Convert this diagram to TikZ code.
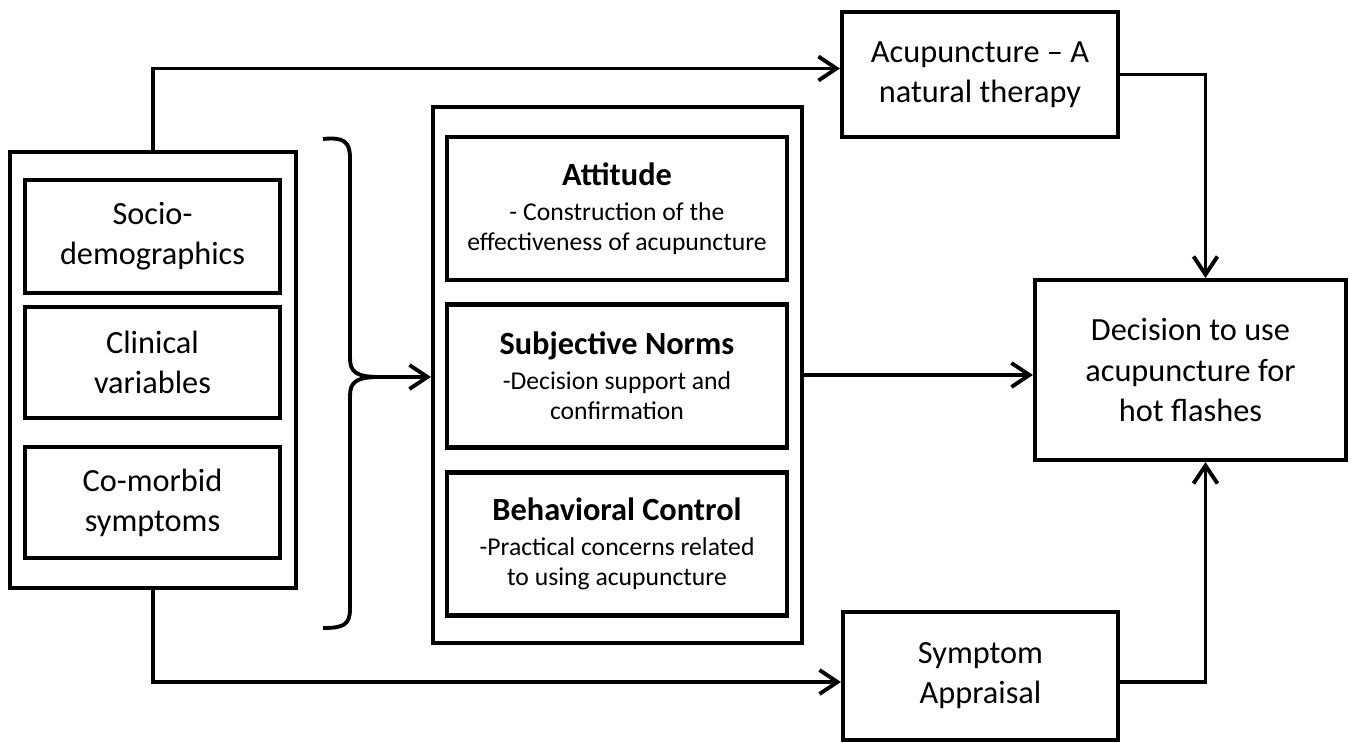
\documentclass[tikz,border=0pt]{standalone}
\usepackage{fontspec}
\setmainfont{Carlito}
\usetikzlibrary{arrows.meta}

\newcommand{\mainsz}{\fontsize{18.4}{22.8}\selectfont}
\newcommand{\subsz}{\fontsize{14.6}{17}\selectfont}

\begin{document}
\begin{tikzpicture}[x=0.02cm,y=-0.02cm,
    box/.style={draw, line width=2.4pt, align=center, inner sep=0pt, font=\mainsz},
    tbox/.style={box, minimum width=6.8cm, minimum height=2.86cm, font=\subsz},
    arr/.style={-{Straight Barb[length=0.36cm,width=0.48cm,line width=2.2pt]}, line width=2.2pt}]
    \useasboundingbox (0,0) rectangle (1356,743);

    % left column
    \node[box, minimum width=5.72cm, minimum height=8.72cm] (left) at (153,370) {};
    \node[box, minimum width=5.1cm, minimum height=2.26cm] (socio) at (152.5,236.5) {Socio-\\demographics};
    \node[box, minimum width=5.1cm, minimum height=2.22cm] (clin) at (152.5,362.5) {Clinical\\variables};
    \node[box, minimum width=5.1cm, minimum height=2.22cm] (comorb) at (152.5,502.5) {Co-morbid\\symptoms};

    % brace
    \coordinate (tip) at (380,377);
    \draw[line width=2.2pt] (323,139) .. controls (343,137) and (350,141) .. (350,158) -- (350,358)
        .. controls (350,372) and (356,377) .. (tip)
        .. controls (356,377) and (350,382) .. (350,396) -- (350,609)
        .. controls (350,625) and (343,628) .. (323,628);

    % middle column
    \node[box, minimum width=7.38cm, minimum height=10.72cm] (mid) at (617.5,375) {};
    \node[tbox] (att) at (617,208.5) {{\mainsz\bfseries Attitude}\\[3pt]- Construction of the\\effectiveness of acupuncture};
    \node[tbox] (norms) at (617,376) {{\mainsz\bfseries Subjective Norms}\\[3pt]-Decision support and\\confirmation};
    \node[tbox] (ctrl) at (617,544) {{\mainsz\bfseries Behavioral Control}\\[3pt]-Practical concerns related\\to using acupuncture};

    % right column
    \node[box, minimum width=5.52cm, minimum height=2.5cm] (acu) at (980,74.5) {Acupuncture – A\\natural therapy};
    \node[box, minimum width=5.5cm, minimum height=2.56cm] (sym) at (980.5,676) {Symptom\\Appraisal};
    \node[box, minimum width=6.22cm, minimum height=3.6cm] (dec) at (1190.5,370) {Decision to use\\acupuncture for\\hot flashes};

    % connectors
    \draw[arr] (tip) -- (mid.west |- tip);
    \draw[arr] (mid.east) -- (mid.east -| dec.west);
    \draw[arr] (left.north) |- ([yshift=0.12cm]acu.west);
    \draw[arr] (left.south) |- ([yshift=-0.12cm]sym.west);
    \draw[arr] (acu.east) -| ([xshift=0.3cm]dec.north);
    \draw[arr] ([yshift=-0.12cm]sym.east) -| ([xshift=0.3cm]dec.south);
\end{tikzpicture}
\end{document}
